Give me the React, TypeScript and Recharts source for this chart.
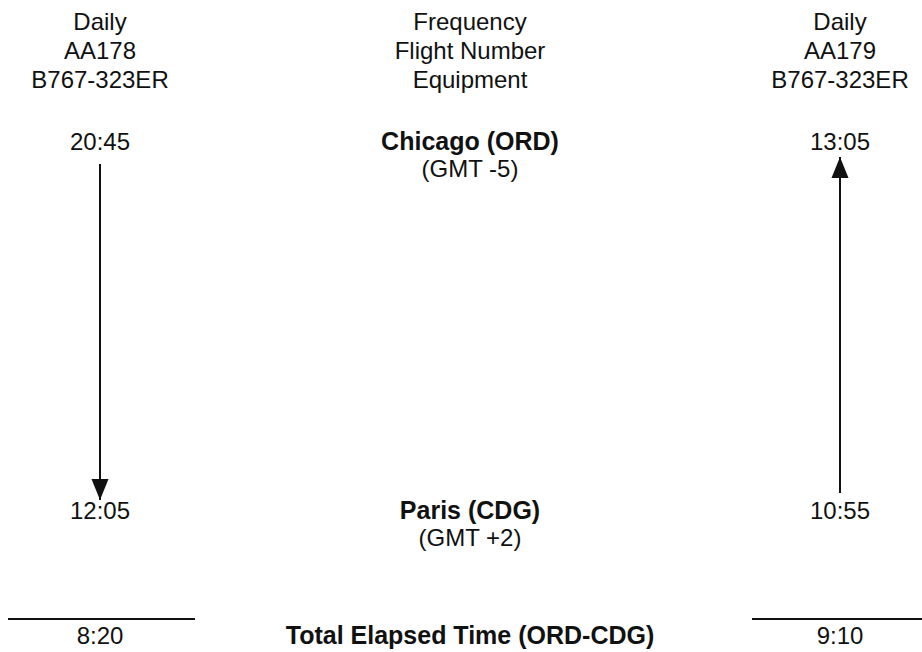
import React from 'react';
import { ComposedChart, Line, Scatter, XAxis, YAxis } from 'recharts';

// columns: 0 = outbound flight, 1 = legend column, 2 = return flight
const headerLeft = ['Daily', 'AA178', 'B767-323ER'];
const headerMid = ['Frequency', 'Flight Number', 'Equipment'];
const headerRight = ['Daily', 'AA179', 'B767-323ER'];
const stations = ['Chicago (ORD)', 'Paris (CDG)'];
const zones = ['(GMT -5)', '(GMT +2)'];
const outboundTimes = ['20:45', '12:05']; // dep ORD, arr CDG
const returnTimes = ['13:05', '10:55']; // arr ORD, dep CDG
const totals = ['8:20', 'Total Elapsed Time (ORD-CDG)', '9:10'];

// layout (vertical units = page pixels)
const W = 922;
const H = 652;
const COL_LEFT_PX = 100;
const COL_STEP_PX = 370;
const xDomain = [-COL_LEFT_PX / COL_STEP_PX, (W - COL_LEFT_PX) / COL_STEP_PX];
const headerRows = [21, 50, 79];
const stationRows = [141, 510];
const zoneRows = [168, 537];
const ruleRow = 619;
const totalRow = 635;
const FONT = '"Liberation Sans", Arial, Helvetica, sans-serif';

type TextPoint = { x: number; y: number; label: string; bold?: boolean };

const textPoints: TextPoint[] = [
  ...headerLeft.map((label, i) => ({ x: 0, y: headerRows[i], label })),
  ...headerMid.map((label, i) => ({ x: 1, y: headerRows[i], label })),
  ...headerRight.map((label, i) => ({ x: 2, y: headerRows[i], label })),
  ...outboundTimes.map((label, i) => ({ x: 0, y: stationRows[i], label })),
  ...returnTimes.map((label, i) => ({ x: 2, y: stationRows[i], label })),
  ...stations.map((label, i) => ({ x: 1, y: stationRows[i], label, bold: true })),
  ...zones.map((label, i) => ({ x: 1, y: zoneRows[i], label })),
  ...totals.map((label, i) => ({ x: i, y: totalRow, label, bold: i === 1 })),
];

// arrows run from departure to arrival
const outboundArrow = [
  { x: 0, y: 164 },
  { x: 0, y: 500 },
];
const returnArrow = [
  { x: 2, y: 493 },
  { x: 2, y: 157 },
];
const pxToCol = (px: number) => (px - COL_LEFT_PX) / COL_STEP_PX;
const leftRule = [
  { x: pxToCol(8), y: ruleRow },
  { x: pxToCol(195), y: ruleRow },
];
const rightRule = [
  { x: pxToCol(752), y: ruleRow },
  { x: pxToCol(922), y: ruleRow },
];

const TextShape = (props: any) => {
  const { cx, cy, payload } = props;
  return (
    <text
      x={cx}
      y={cy}
      textAnchor="middle"
      dominantBaseline="central"
      fontSize={payload.bold ? 25 : 24}
      fontFamily={FONT}
      fontWeight={payload.bold ? 700 : 400}
      fill="#111"
    >
      {payload.label}
    </text>
  );
};

const makeHead = (down: boolean) => (props: any) => {
  const { cx, cy, index } = props;
  if (index !== 1) return <g key={`h-${index}`} />;
  const base = down ? cy - 21 : cy + 21;
  return (
    <polygon
      key={`h-${index}`}
      points={`${cx},${cy} ${cx - 8.5},${base} ${cx + 8.5},${base}`}
      fill="#111"
    />
  );
};

export default function App() {
  return (
    <div style={{ position: 'absolute', left: 0, top: 0, background: '#fff' }}>
      <ComposedChart width={W} height={H} margin={{ top: 0, right: 0, bottom: 0, left: 0 }}>
        <XAxis type="number" dataKey="x" domain={xDomain} hide allowDataOverflow />
        <YAxis type="number" dataKey="y" domain={[0, H]} reversed hide allowDataOverflow />
        <Line data={outboundArrow} dataKey="y" stroke="#111" strokeWidth={2} dot={makeHead(true)} activeDot={false} isAnimationActive={false} />
        <Line data={returnArrow} dataKey="y" stroke="#111" strokeWidth={2} dot={makeHead(false)} activeDot={false} isAnimationActive={false} />
        <Line data={leftRule} dataKey="y" stroke="#111" strokeWidth={2} dot={false} activeDot={false} isAnimationActive={false} />
        <Line data={rightRule} dataKey="y" stroke="#111" strokeWidth={2} dot={false} activeDot={false} isAnimationActive={false} />
        <Scatter data={textPoints} dataKey="y" shape={TextShape} isAnimationActive={false} />
      </ComposedChart>
    </div>
  );
}
